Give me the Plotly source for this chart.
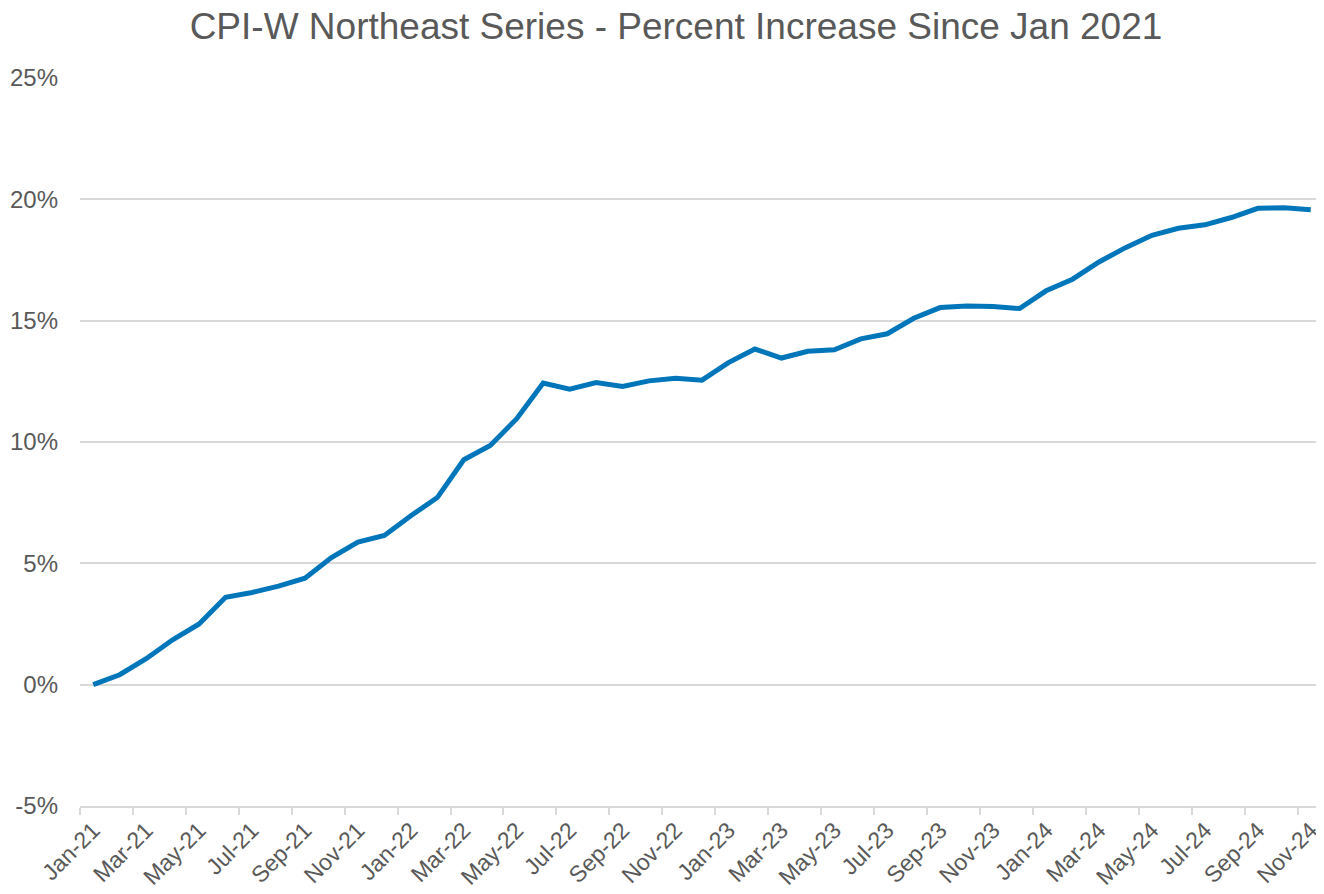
import plotly.graph_objects as go

months = ["Jan-21","Feb-21","Mar-21","Apr-21","May-21","Jun-21","Jul-21","Aug-21","Sep-21","Oct-21","Nov-21","Dec-21",
          "Jan-22","Feb-22","Mar-22","Apr-22","May-22","Jun-22","Jul-22","Aug-22","Sep-22","Oct-22","Nov-22","Dec-22",
          "Jan-23","Feb-23","Mar-23","Apr-23","May-23","Jun-23","Jul-23","Aug-23","Sep-23","Oct-23","Nov-23","Dec-23",
          "Jan-24","Feb-24","Mar-24","Apr-24","May-24","Jun-24","Jul-24","Aug-24","Sep-24","Oct-24","Nov-24"]

pct_increase = [0.00, 0.41, 1.07, 1.85, 2.50, 3.60, 3.80, 4.06, 4.39, 5.24, 5.88, 6.15,
                6.96, 7.71, 9.27, 9.86, 10.96, 12.43, 12.18, 12.45, 12.29, 12.52, 12.63, 12.55,
                13.27, 13.83, 13.46, 13.74, 13.80, 14.25, 14.46, 15.10, 15.54, 15.60, 15.58, 15.50,
                16.23, 16.71, 17.42, 18.01, 18.52, 18.81, 18.95, 19.25, 19.63, 19.65, 19.57]

y_tick_values = [-5, 0, 5, 10, 15, 20, 25]
y_tick_labels = ["-5%", "0%", "5%", "10%", "15%", "20%", "25%"]

title = "CPI-W Northeast Series - Percent Increase Since Jan 2021"
grey = "#595959"
grid = "#d9d9d9"
font_family = "Liberation Sans, Arial"

fig = go.Figure()
fig.add_trace(go.Scatter(x=months, y=pct_increase, mode="lines",
                         line=dict(color="#0076BA", width=5), hoverinfo="x+y"))

fig.update_layout(
    width=1316, height=886,
    paper_bgcolor="white", plot_bgcolor="white",
    margin=dict(l=72, r=0, t=70, b=88),
    showlegend=False,
    title=dict(text=title, x=0.5076, xanchor="center", y=0.980, yanchor="middle",
               font=dict(family=font_family, size=37, color=grey)),
    font=dict(family=font_family, color=grey),
)
fig.update_xaxes(type="category", tickmode="array", tickvals=months[::2], ticktext=months[::2],
                 tickangle=-45, tickson="boundaries", ticks="outside", ticklen=7, tickwidth=1.5,
                 tickcolor=grid, showline=True, linecolor=grid, linewidth=1.5,
                 showgrid=False, tickfont=dict(size=23, color=grey),
                 range=[-0.5, 46.5], automargin=False)
fig.update_yaxes(range=[-5, 25], tickmode="array", tickvals=y_tick_values, ticktext=y_tick_labels,
                 showgrid=True, gridcolor=grid,
                 gridwidth=1.5, zeroline=False, showline=False, ticks="",
                 tickfont=dict(size=24, color=grey), ticklabelstandoff=21, automargin=False)

fig.write_html("out.html")
